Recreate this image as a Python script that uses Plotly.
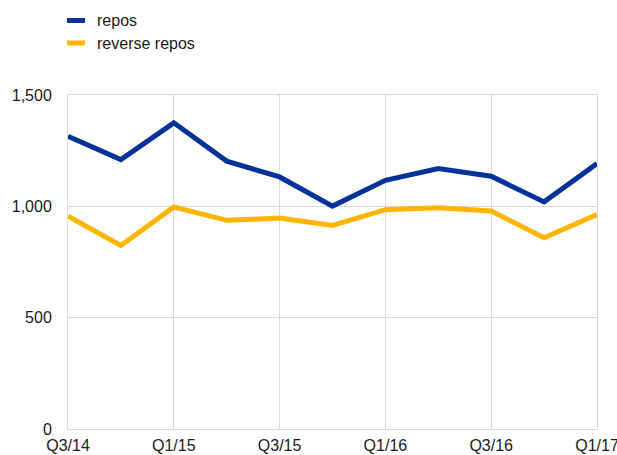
import plotly.graph_objects as go

quarters = ["Q3/14", "Q4/14", "Q1/15", "Q2/15", "Q3/15", "Q4/15",
            "Q1/16", "Q2/16", "Q3/16", "Q4/16", "Q1/17"]
repos = [1315, 1210, 1375, 1203, 1132, 1001, 1117, 1170, 1135, 1020, 1192]
reverse_repos = [956, 824, 997, 937, 947, 914, 985, 994, 979, 859, 963]
tick_labels = ["Q3/14", "Q1/15", "Q3/15", "Q1/16", "Q3/16", "Q1/17"]
y_ticks = [0, 500, 1000, 1500]
series_names = ["repos", "reverse repos"]
series_colors = ["#003299", "#FFB400"]

W, H = 617, 455
L, R, T, B = 68, 20, 95, 26
PW, PH = W - L - R, H - T - B

x_idx = list(range(len(quarters)))

fig = go.Figure()
for name, vals, col in zip(series_names, [repos, reverse_repos], series_colors):
    fig.add_trace(go.Scatter(x=x_idx, y=vals, mode="lines", name=name,
                             line=dict(color=col, width=5), showlegend=False))

# custom legend (swatch + label)
legend_rows_px = [20.5, 43]
for name, col, py in zip(series_names, series_colors, legend_rows_px):
    yp = (H - B - py) / PH
    fig.add_shape(type="line", xref="paper", yref="paper",
                  x0=(67 - L) / PW, x1=(85 - L) / PW, y0=yp, y1=yp,
                  line=dict(color=col, width=5))
    fig.add_annotation(xref="paper", yref="paper", x=(95 - L) / PW, y=yp,
                       xanchor="left", yanchor="middle", showarrow=False,
                       text=name, font=dict(size=16))

fig.update_layout(
    width=W, height=H,
    margin=dict(l=L, r=R, t=T, b=B, autoexpand=False),
    paper_bgcolor="white", plot_bgcolor="white",
    font=dict(family="Liberation Sans, Arial, sans-serif", size=16, color="#1a1a1a"),
    showlegend=False,
    xaxis=dict(
        range=[0, len(quarters) - 1],
        tickmode="array",
        tickvals=[quarters.index(t) for t in tick_labels],
        ticktext=tick_labels,
        showgrid=True, gridcolor="#d9d9d9", gridwidth=1,
        showline=True, linecolor="#d9d9d9", mirror=True,
        ticks="", zeroline=False,
        ticklabelstandoff=2,
        ticklabeloverflow="allow",
        tickfont=dict(size=16),
    ),
    yaxis=dict(
        range=[0, 1500],
        tickmode="array", tickvals=y_ticks,
        tickformat=",d",
        showgrid=True, gridcolor="#d9d9d9", gridwidth=1,
        showline=True, linecolor="#d9d9d9", mirror=True,
        ticks="", zeroline=False,
        ticklabelstandoff=12,
        tickfont=dict(size=16),
    ),
)

fig.write_html("out.html", config={"displayModeBar": False},
               post_script="document.body.style.margin='0';")
